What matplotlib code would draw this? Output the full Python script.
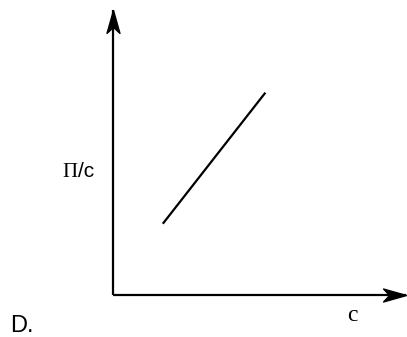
import matplotlib
matplotlib.use("Agg")
import matplotlib.pyplot as plt

# straight-line relation of Pi/c against c
c = [1.7, 5.2]
pi_over_c = [2.5, 7.1]

W, H = 407, 337
fig = plt.figure(figsize=(W / 100, H / 100), dpi=100)

# axes box: origin at (113, 295) px, arrows end near the figure edges
x0, y0, x1, y1 = 113, 295, 406, 10
ax = fig.add_axes([x0 / W, 1 - y0 / H, (x1 - x0) / W, (y0 - y1) / H])
ax.set_xlim(0, 10)
ax.set_ylim(0, 10)
ax.axis("off")

# axis lines
ax.plot([0, 1], [0, 0], color="black", lw=1.6, transform=ax.transAxes,
        clip_on=False, solid_capstyle="butt")
ax.plot([0, 0], [0, 1], color="black", lw=1.6, transform=ax.transAxes,
        clip_on=False, solid_capstyle="butt")

# stealth-style arrow heads
head_right = [(0, 0), (-23, 6.5), (-17, 0), (-23, -6.5), (0, 0)]
head_up = [(y, x) for x, y in head_right]
ax.plot(1, 0, marker=head_right, ms=33, color="black", transform=ax.transAxes,
        clip_on=False)
ax.plot(0, 1, marker=head_up, ms=33, color="black", transform=ax.transAxes,
        clip_on=False)

ax.plot(c, pi_over_c, color="black", lw=1.6, solid_capstyle="butt")


def px(x, y):
    return x / W, 1 - y / H


fig.text(*px(62, 177), "\u03a0", family="Liberation Serif", fontsize=15,
         va="baseline", ha="left")
fig.text(*px(78, 177), "/c", family="Liberation Sans", fontsize=15,
         va="baseline", ha="left")
fig.text(*px(347, 321), "c", family="Liberation Serif", fontsize=17,
         va="baseline", ha="left")
fig.text(*px(10, 332), "D.", family="Liberation Sans", fontsize=17,
         va="baseline", ha="left")

fig.savefig("out.png", dpi=100)
